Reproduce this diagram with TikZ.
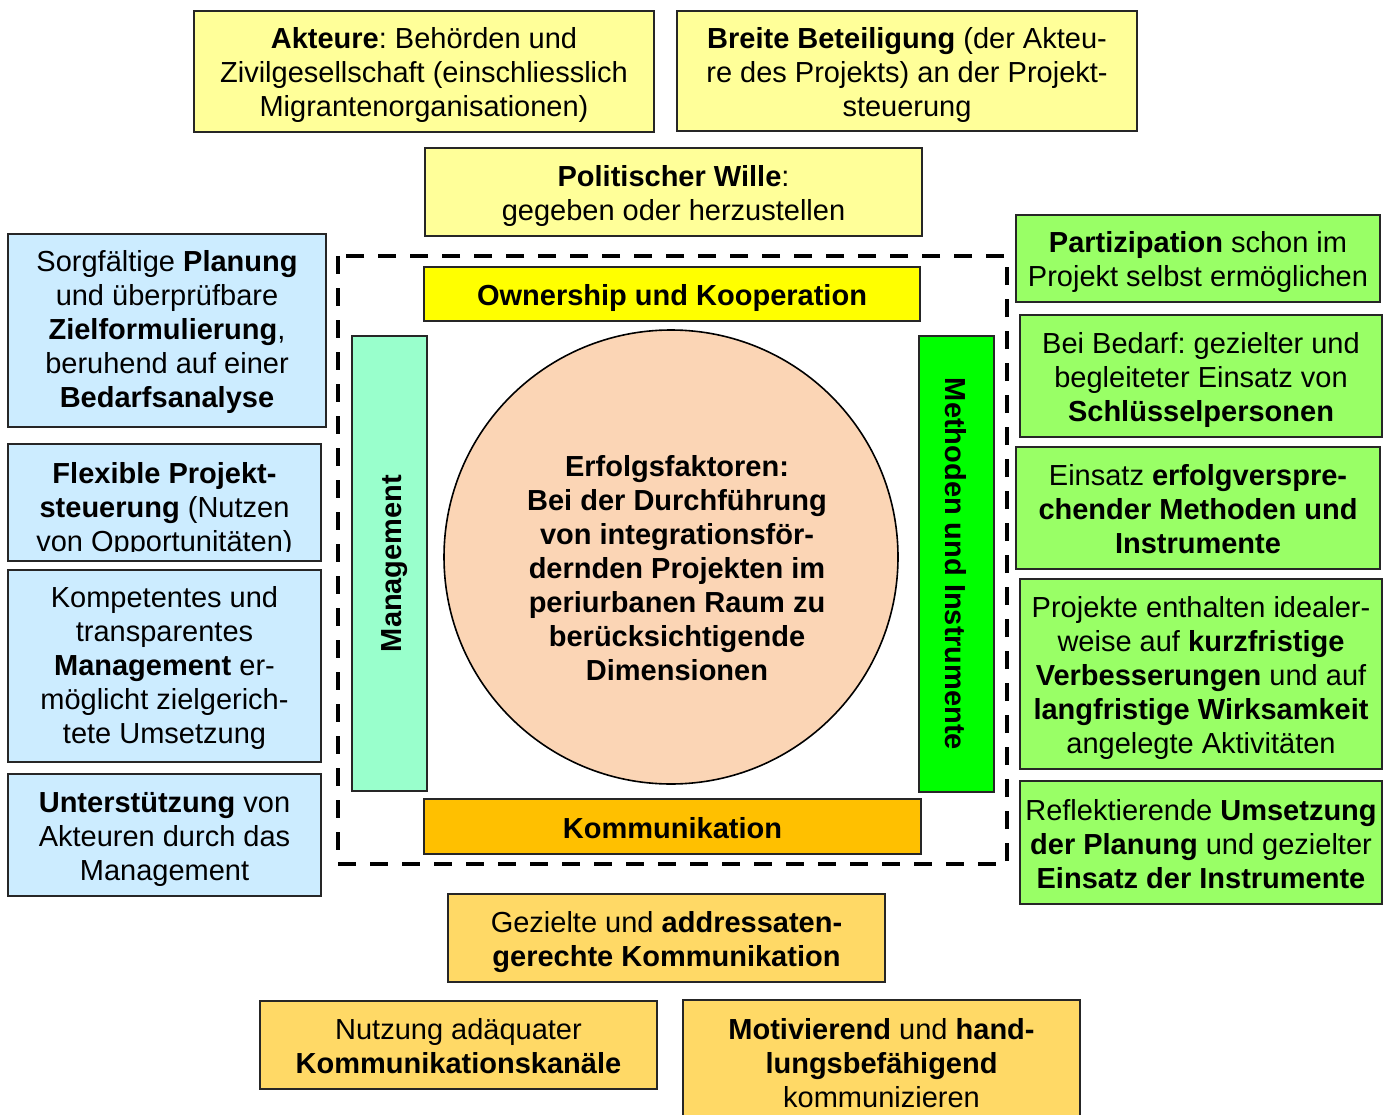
\documentclass[tikz,border=0pt]{standalone}
\usepackage{fontspec}
\setmainfont{Liberation Sans}
\frenchspacing
\definecolor{lyellow}{HTML}{FFFF99}
\definecolor{vyellow}{HTML}{FFFF00}
\definecolor{peach}{HTML}{FBD5B5}
\definecolor{mint}{HTML}{99FFCC}
\definecolor{vgreen}{HTML}{00FF00}
\definecolor{lgreen}{HTML}{99FF66}
\definecolor{lblue}{HTML}{CCECFF}
\definecolor{vorange}{HTML}{FFC000}
\definecolor{lorange}{HTML}{FFD966}
\newcommand{\tops}{\rule{0pt}{29.5pt}}
\newcommand{\topsb}{\rule{0pt}{25pt}}
\newcommand{\bots}{\rule[-6.5pt]{0pt}{6.5pt}}
\begin{document}
\begin{tikzpicture}[x=1pt,y=-1pt,
  every node/.style={font=\fontsize{29}{34}\selectfont\frenchspacing},
  box/.style={draw=black!85, line width=1.6pt, rectangle, inner sep=0pt, align=center},
  txt/.style={inner sep=0pt, align=center},
  dashbox/.style={draw=black, line width=4.5pt, dash pattern=on 18pt off 14pt}]
\useasboundingbox (0,0) rectangle (1394,1115);
\clip (0,0) rectangle (1394,1115);
\fill[white] (0,0) rectangle (1394,1115);

% dashed frame
\coordinate (fa) at (338,256);
\coordinate (fb) at (1007,864);
\draw[dashbox] (fa) rectangle (fb);

% top boxes
\node[box, fill=lyellow, minimum width=460, minimum height=121] (akt) at (424,71.5)
  {\tops\textbf{Akteure}: Behörden und\\Zivilgesellschaft (einschliesslich\\Migrantenorganisationen)\bots};
\node[box, fill=lyellow, minimum width=460, minimum height=120] (brei) at (907,71)
  {\tops\textbf{Breite Beteiligung} (der Akteu-\\re des Projekts) an der Projekt-\\steuerung\bots};
\node[box, fill=lyellow, minimum width=497, minimum height=88] (pol) at (673.5,192)
  {\tops\textbf{Politischer Wille}:\\gegeben oder herzustellen\bots};

% inner frame elements
\node[box, fill=vyellow, minimum width=496, minimum height=54] (own) at (672,294)
  {\tops\textbf{Ownership und Kooperation}\bots};
\node[box, fill=vorange, minimum width=497, minimum height=55] (kom) at (672.5,826.5)
  {\tops\textbf{Kommunikation}\bots};
\node[box, fill=mint, rotate=90, minimum width=455, minimum height=75] (man) at (389.5,563.5)
  {\tops\textbf{Management}\bots};
\node[box, fill=vgreen, rotate=-90, minimum width=456, minimum height=75] (met) at (956.5,564)
  {\tops\textbf{Methoden und Instrumente}\bots};
\node[draw=black, line width=1.6pt, circle, fill=peach, minimum size=454, inner sep=0pt] (circ) at (671,557) {};
\node[txt] (circt) at (677,568)
  {\textbf{Erfolgsfaktoren:}\\\textbf{Bei der Durchführung}\\\textbf{von integrationsför-}\\\textbf{dernden Projekten im}\\\textbf{periurbanen Raum zu}\\\textbf{berücksichtigende}\\\textbf{Dimensionen}};

% left boxes
\node[box, fill=lblue, minimum width=318, minimum height=193] (plan) at (167,330.5)
  {\topsb Sorgfältige \textbf{Planung}\\und überprüfbare\\\textbf{Zielformulierung},\\beruhend auf einer\\\textbf{Bedarfsanalyse}\bots};
\node[rectangle, fill=lblue, inner sep=0pt, minimum width=313, minimum height=117] (flex) at (164.5,502.5) {};
\begin{scope}
  \clip (8,444) rectangle (321,551);
  \node[txt] (flext) at (164.5,506)
    {\tops\textbf{Flexible Projekt-}\\\textbf{steuerung} (Nutzen\\von Opportunitäten)\bots};
\end{scope}
\draw[draw=black!85, line width=1.6pt] (flex.north west) rectangle (flex.south east);
\node[box, fill=lblue, minimum width=313, minimum height=192] (komp) at (164.5,666)
  {\topsb Kompetentes und\\transparentes\\\textbf{Management} er-\\möglicht zielgerich-\\tete Umsetzung\bots};
\node[box, fill=lblue, minimum width=313, minimum height=122] (unt) at (164.5,835)
  {\tops\textbf{Unterstützung} von\\Akteuren durch das\\Management\bots};

% right boxes
\node[box, fill=lgreen, minimum width=364, minimum height=87] (part) at (1198,258.5)
  {\tops\textbf{Partizipation} schon im\\Projekt selbst ermöglichen\bots};
\node[box, fill=lgreen, minimum width=362, minimum height=122] (bed) at (1201,376)
  {\tops Bei Bedarf: gezielter und\\begleiteter Einsatz von\\\textbf{Schlüsselpersonen}\bots};
\node[box, fill=lgreen, minimum width=364, minimum height=122] (ein) at (1198,508)
  {\tops Einsatz \textbf{erfolgverspre-}\\\textbf{chender Methoden und}\\\textbf{Instrumente}\bots};
\node[box, fill=lgreen, minimum width=362, minimum height=190] (proj) at (1201,674)
  {\tops Projekte enthalten idealer-\\weise auf \textbf{kurzfristige}\\\textbf{Verbesserungen} und auf\\\textbf{langfristige Wirksamkeit}\\angelegte Aktivitäten\bots};
\node[box, fill=lgreen, minimum width=362, minimum height=123] (refl) at (1201,842.5)
  {\tops Reflektierende \textbf{Umsetzung}\\\textbf{der Planung} und gezielter\\\textbf{Einsatz der Instrumente}\bots};

% bottom boxes
\node[box, fill=lorange, minimum width=437, minimum height=88] (gez) at (666.5,938)
  {\tops Gezielte und \textbf{addressaten-}\\\textbf{gerechte Kommunikation}\bots};
\node[box, fill=lorange, minimum width=397, minimum height=88] (nutz) at (458.5,1045)
  {\tops Nutzung adäquater\\\textbf{Kommunikationskanäle}\bots};
\node[box, fill=lorange, minimum width=397, minimum height=124] (mot) at (881.5,1062)
  {\tops\textbf{Motivierend} und \textbf{hand-}\\\textbf{lungsbefähigend}\\kommunizieren\bots};
\end{tikzpicture}
\end{document}
